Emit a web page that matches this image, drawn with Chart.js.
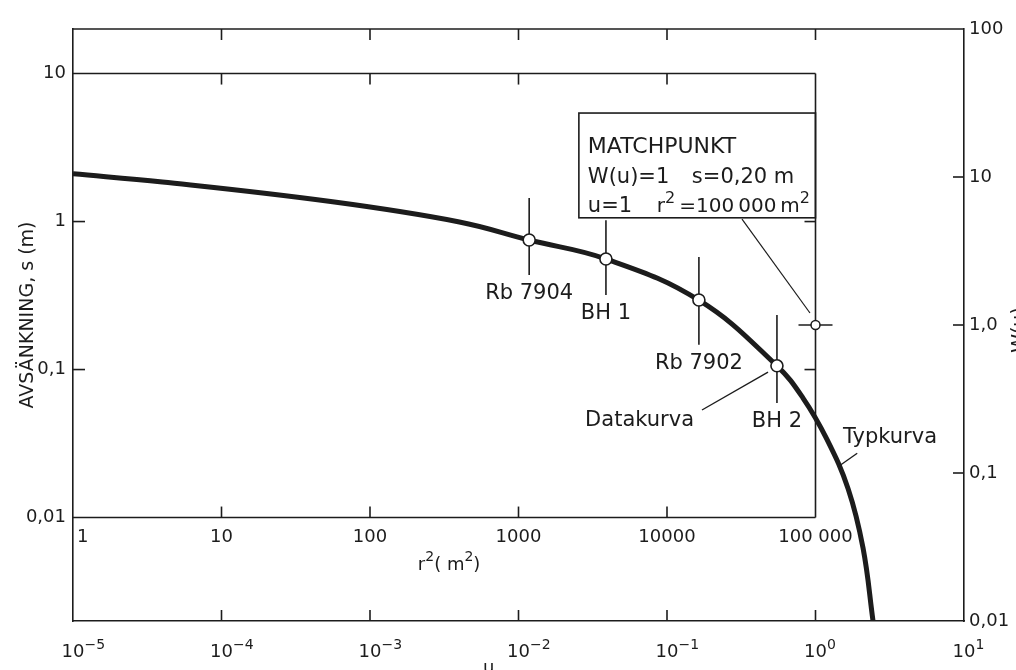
<!DOCTYPE html>
<html>
<head>
<meta charset="utf-8">
<title>Typkurvematchning</title>
<script src="https://cdn.jsdelivr.net/npm/chart.js@4/dist/chart.umd.min.js"></script>
<style>
  html, body { margin: 0; padding: 0; background: #fff; }
  #wrap { width: 1016px; height: 670px; position: relative; }
</style>
</head>
<body>
<div id="wrap"><canvas id="myChart"></canvas></div>
<script>
// Type curve W(u)
const typU = [1e-5, 4e-5, 5.6e-4, 4e-3, 1.18e-2, 3.9e-2, 0.164, 0.55, 0.824, 1.19, 1.66, 2.09, 2.44];
const typW = [10.5, 9.25, 6.8, 4.97, 3.75, 2.79, 1.47, 0.53, 0.321, 0.17, 0.078, 0.0311, 0.01];

// Observation wells (data curve): r2 in m2, drawdown s in m, with the drawn range bars
const obsNames = ['Rb 7904', 'BH 1', 'Rb 7902', 'BH 2'];
const obsR2 = [1180, 3880, 16400, 55000];
const obsS = [0.75, 0.558, 0.295, 0.106];
const obsSHigh = [1.44, 1.02, 0.576, 0.234];
const obsSLow = [0.435, 0.319, 0.147, 0.0594];

// Match point
const matchR2 = 100000;
const matchS = 0.2;

// Ticks and tick labels
const uTicks = [1e-5, 1e-4, 1e-3, 1e-2, 1e-1, 1, 10];
const uExp = ['\u22125', '\u22124', '\u22123', '\u22122', '\u22121', '0', '1'];
const wTicks = [0.01, 0.1, 1, 10, 100];
const wLabels = ['0,01', '0,1', '1,0', '10', '100'];
const sTicks = [0.01, 0.1, 1, 10];
const sLabels = ['0,01', '0,1', '1', '10'];
const r2Ticks = [1, 10, 100, 1000, 10000, 100000];
const r2Labels = ['1', '10', '100', '1000', '10000', '100 000'];

const FONT = '"DejaVu Sans", sans-serif';
const INK = '#1c1c1c';

function seg(ctx, x1, y1, x2, y2) {
  ctx.beginPath();
  ctx.moveTo(x1, y1);
  ctx.lineTo(x2, y2);
  ctx.stroke();
}

// text with raised parts, e.g. r^2
function rich(ctx, parts, x, y, size) {
  let cx = x;
  parts.forEach(([t, sup]) => {
    const fs = sup ? Math.round(size * 0.78) : size;
    ctx.font = fs + 'px ' + FONT;
    ctx.fillText(t, cx, sup ? y - size * 0.45 : y);
    cx += ctx.measureText(t).width;
  });
  return cx;
}

const overlay = {
  id: 'overlay',
  beforeDatasetsDraw(chart) {
    const {ctx, chartArea: a, scales} = chart;
    const {u, W, r2, s} = scales;
    ctx.save();
    ctx.strokeStyle = INK;
    ctx.lineWidth = 1.6;

    // outer frame top line and inward ticks
    seg(ctx, a.left, a.top, a.right, a.top);
    uTicks.slice(1, -1).forEach(v => {
      const x = u.getPixelForValue(v);
      seg(ctx, x, a.top, x, a.top + 11);
      seg(ctx, x, a.bottom, x, a.bottom - 11);
    });
    wTicks.slice(1, -1).forEach(v => {
      const y = W.getPixelForValue(v);
      seg(ctx, a.right, y, a.right - 11, y);
    });
    sTicks.slice(1, -1).forEach(v => {
      const y = s.getPixelForValue(v);
      seg(ctx, a.left, y, a.left + 12, y);
    });

    // inner frame (r2 / s)
    const il = r2.getPixelForValue(r2Ticks[0]);
    const ir = r2.getPixelForValue(r2Ticks[r2Ticks.length - 1]);
    const it = s.getPixelForValue(sTicks[sTicks.length - 1]);
    const ib = s.getPixelForValue(sTicks[0]);
    seg(ctx, il, it, ir, it);
    seg(ctx, ir, it, ir, ib);
    seg(ctx, il, ib, ir, ib);
    r2Ticks.slice(1, -1).forEach(v => {
      const x = r2.getPixelForValue(v);
      seg(ctx, x, it, x, it + 11);
      seg(ctx, x, ib, x, ib - 11);
    });
    sTicks.slice(1, -1).forEach(v => {
      const y = s.getPixelForValue(v);
      seg(ctx, ir, y, ir - 11, y);
    });

    // range bars through the observations
    obsR2.forEach((v, i) => {
      const x = r2.getPixelForValue(v);
      seg(ctx, x, s.getPixelForValue(obsSHigh[i]), x, s.getPixelForValue(obsSLow[i]));
    });
    // match point cross
    const mx = r2.getPixelForValue(matchR2), my = s.getPixelForValue(matchS);
    seg(ctx, mx - 17, my, mx + 17, my);
    ctx.restore();
  },
  afterDatasetsDraw(chart) {
    const {ctx, chartArea: a, scales} = chart;
    const {u, W, r2, s} = scales;
    ctx.save();
    ctx.fillStyle = INK;
    ctx.strokeStyle = INK;
    ctx.lineWidth = 1.4;
    ctx.textBaseline = 'alphabetic';

    // bottom u labels: 10 with exponent
    uTicks.forEach((v, i) => {
      const x = u.getPixelForValue(v);
      ctx.font = '18px ' + FONT;
      const w = ctx.measureText('10').width;
      ctx.textAlign = 'left';
      rich(ctx, [['10', false], [uExp[i], true]], x - w / 2, a.bottom + 36, 18);
    });
    ctx.font = '18px ' + FONT;
    ctx.textAlign = 'center';
    ctx.fillText('u', u.getPixelForValue(0.0063), 673);

    // inner r2 labels
    const ib = s.getPixelForValue(sTicks[0]);
    r2Ticks.forEach((v, i) => {
      const x = r2.getPixelForValue(v);
      ctx.textAlign = i === 0 ? 'left' : 'center';
      ctx.font = '18px ' + FONT;
      ctx.fillText(r2Labels[i], i === 0 ? x + 4 : x, ib + 24);
    });
    ctx.textAlign = 'left';
    rich(ctx, [['r', false], ['2', true], ['( m', false], ['2', true], [')', false]],
      r2.getPixelForValue(210), ib + 52, 18);

    // axis titles
    ctx.save();
    ctx.translate(33, 315);
    ctx.rotate(-Math.PI / 2);
    ctx.textAlign = 'center';
    ctx.font = '19px ' + FONT;
    ctx.fillText('AVS\u00C4NKNING, s (m)', 0, 0);
    ctx.restore();
    ctx.save();
    ctx.translate(1025, 330);
    ctx.rotate(-Math.PI / 2);
    ctx.textAlign = 'center';
    ctx.font = '19px ' + FONT;
    ctx.fillText('W(u)', 0, 0);
    ctx.restore();

    // observation names under their range bars
    ctx.font = '21px ' + FONT;
    ctx.textAlign = 'center';
    obsNames.forEach((name, i) => {
      ctx.fillText(name, r2.getPixelForValue(obsR2[i]), s.getPixelForValue(obsSLow[i]) + 24);
    });

    // Datakurva label and leader
    ctx.textAlign = 'right';
    ctx.fillText('Datakurva', r2.getPixelForValue(15200), s.getPixelForValue(0.0416));
    seg(ctx, r2.getPixelForValue(17200), s.getPixelForValue(0.0533),
      r2.getPixelForValue(47900), s.getPixelForValue(0.0962));

    // Typkurva label and leader
    ctx.textAlign = 'left';
    ctx.fillText('Typkurva', u.getPixelForValue(1.53), W.getPixelForValue(0.16));
    seg(ctx, u.getPixelForValue(1.45), W.getPixelForValue(0.112),
      u.getPixelForValue(1.91), W.getPixelForValue(0.136));

    // MATCHPUNKT box
    const bl = r2.getPixelForValue(2550), br = r2.getPixelForValue(matchR2);
    const bt = s.getPixelForValue(5.41), bb = s.getPixelForValue(1.06);
    ctx.lineWidth = 1.6;
    ctx.strokeRect(bl, bt, br - bl, bb - bt);
    ctx.lineWidth = 1.2;
    seg(ctx, r2.getPixelForValue(32000), s.getPixelForValue(1.04),
      r2.getPixelForValue(91800), s.getPixelForValue(0.241));
    ctx.textAlign = 'left';
    ctx.font = '22px ' + FONT;
    ctx.fillText('MATCHPUNKT', bl + 9, bt + 40);
    ctx.font = '21px ' + FONT;
    ctx.fillText('W(u)=1', bl + 9, bt + 70);
    ctx.fillText('s=0,20 m', bl + 113, bt + 70);
    ctx.fillText('u=1', bl + 9, bt + 99);
    rich(ctx, [['r', false], ['2', true], ['\u2009=100\u2009000\u2009m', false], ['2', true]], bl + 78, bt + 99, 20);
    ctx.restore();
  }
};

const ctx = document.getElementById('myChart').getContext('2d');
const myChart = new Chart(ctx, {
  type: 'scatter',
  data: {
    datasets: [{
      label: 'Matchpunkt',
      xAxisID: 'r2',
      yAxisID: 's',
      data: [{x: matchR2, y: matchS}],
      showLine: false,
      pointRadius: 4.5,
      pointBackgroundColor: '#fff',
      pointBorderColor: INK,
      pointBorderWidth: 1.5
    }, {
      label: 'Datakurva',
      xAxisID: 'r2',
      yAxisID: 's',
      data: obsR2.map((x, i) => ({x: x, y: obsS[i]})),
      showLine: false,
      pointRadius: 6,
      pointBackgroundColor: '#fff',
      pointBorderColor: INK,
      pointBorderWidth: 1.6
    }, {
      label: 'Typkurva',
      xAxisID: 'u',
      yAxisID: 'W',
      data: typU.map((x, i) => ({x: x, y: typW[i]})),
      showLine: true,
      borderColor: INK,
      borderWidth: 5,
      pointRadius: 0,
      tension: 0.4,
      fill: false
    }]
  },
  options: {
    responsive: true,
    maintainAspectRatio: false,
    animation: false,
    layout: { padding: { top: 29 } },
    plugins: { legend: { display: false }, tooltip: { enabled: false } },
    scales: {
      u: {
        axis: 'x',
        type: 'logarithmic',
        position: 'bottom',
        min: 1e-5,
        max: 10,
        grid: { display: false, drawTicks: false },
        border: { color: INK, width: 1.6 },
        ticks: { display: false },
        afterBuildTicks: sc => { sc.ticks = uTicks.map(v => ({value: v})); },
        afterFit: sc => { sc.height = 49; }
      },
      r2: {
        axis: 'x',
        type: 'logarithmic',
        min: 1,
        max: 1e6,
        display: false
      },
      W: {
        axis: 'y',
        type: 'logarithmic',
        position: 'right',
        min: 0.01,
        max: 100,
        grid: { display: false, drawTicks: false },
        border: { color: INK, width: 1.6 },
        ticks: {
          autoSkip: false,
          padding: 5,
          color: INK,
          font: { family: 'DejaVu Sans', size: 18 },
          callback: (v, i) => wLabels[i]
        },
        afterBuildTicks: sc => { sc.ticks = wTicks.map(v => ({value: v})); },
        afterFit: sc => { sc.width = 52; }
      },
      s: {
        axis: 'y',
        type: 'logarithmic',
        position: 'left',
        min: 0.002,
        max: 20,
        grid: { display: false, drawTicks: false },
        border: { color: INK, width: 1.6 },
        ticks: {
          autoSkip: false,
          padding: 7,
          color: INK,
          font: { family: 'DejaVu Sans', size: 18 },
          callback: (v, i) => sLabels[i]
        },
        afterBuildTicks: sc => { sc.ticks = sTicks.map(v => ({value: v})); },
        afterFit: sc => { sc.width = 73; }
      }
    }
  },
  plugins: [overlay]
});
</script>
</body>
</html>
